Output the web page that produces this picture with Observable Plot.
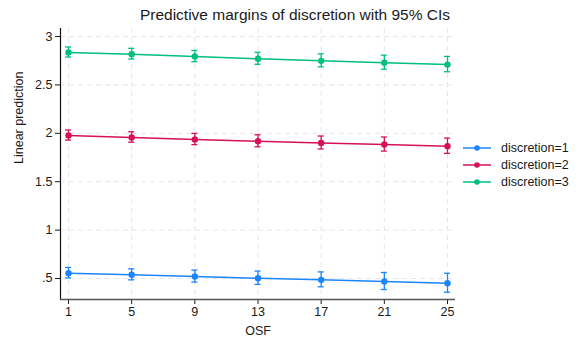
<!DOCTYPE html>
<html>
<head>
<meta charset="utf-8">
<script src="https://cdn.jsdelivr.net/npm/d3@7"></script>
<script src="https://cdn.jsdelivr.net/npm/@observablehq/plot@0.6"></script>
<style>
  body { margin: 0; background: #fff; font-family: "Liberation Sans", Arial, sans-serif; }
  #wrap { position: relative; width: 581px; height: 339px; }
  #title { position: absolute; top: 6px; left: 0; width: 590px; text-align: center; font-size: 15.5px; color: #1a1a1a; }
  #legend { position: absolute; left: 463px; top: 139px; font-size: 12.5px; color: #1a1a1a; }
  #legend .row { display: flex; align-items: center; height: 17px; }
  #legend svg { margin-right: 8px; }
</style>
</head>
<body>
<div id="wrap">
  <div id="chart"></div>
  <div id="title">Predictive margins of discretion with 95% CIs</div>
  <div id="legend"></div>
</div>
<script>
const osf = [1, 5, 9, 13, 17, 21, 25];
const seriesNames = ["discretion=1", "discretion=2", "discretion=3"];
const seriesColors = ["#1a85ff", "#d41159", "#00bf7f"];
const d1 = [0.555, 0.538, 0.520, 0.503, 0.486, 0.469, 0.451];
const d2 = [1.977, 1.957, 1.936, 1.918, 1.900, 1.884, 1.867];
const d3v = [2.835, 2.818, 2.793, 2.770, 2.749, 2.730, 2.710];
const hw1 = [0.054, 0.057, 0.062, 0.069, 0.077, 0.088, 0.098];
const hw2 = [0.052, 0.054, 0.058, 0.062, 0.067, 0.073, 0.079];
const hw3 = [0.052, 0.055, 0.058, 0.062, 0.067, 0.073, 0.079];
const yTicks = [0.5, 1, 1.5, 2, 2.5, 3];
const yTickLabels = [".5", "1", "1.5", "2", "2.5", "3"];

const values = [d1, d2, d3v];
const hws = [hw1, hw2, hw3];
const data = [];
seriesNames.forEach((s, i) => {
  osf.forEach((x, j) => {
    data.push({series: s, x, y: values[i][j], lo: values[i][j] - hws[i][j], hi: values[i][j] + hws[i][j]});
  });
});

const plot = Plot.plot({
  width: 581,
  height: 339,
  marginLeft: 60,
  marginRight: 126,
  marginTop: 28,
  marginBottom: 40,
  style: {fontFamily: '"Liberation Sans", Arial, sans-serif', fontSize: "12.5px", color: "#1a1a1a", background: "#fff"},
  x: {type: "linear", domain: [0.493, 25.507], label: null},
  y: {type: "linear", domain: [0.283, 3.083], label: null},
  color: {domain: seriesNames, range: seriesColors},
  marks: [
    Plot.gridX(osf, {stroke: "#e6e6e6", strokeOpacity: 1, strokeDasharray: "5,4"}),
    Plot.gridY(yTicks, {stroke: "#e6e6e6", strokeOpacity: 1, strokeDasharray: "5,4"}),
    Plot.line(data, {x: "x", y: "y", z: "series", stroke: "series", strokeWidth: 1.5}),
    Plot.ruleX(data, {x: "x", y1: "lo", y2: "hi", stroke: "series", strokeWidth: 1.3}),
    Plot.dot(data, {x: "x", y: "y", fill: "series", r: 3.2}),
    Plot.axisX(osf, {tickFormat: d => String(d), tickSize: 5, tickPadding: 3, fontSize: 12.5, label: null}),
    Plot.axisY(yTicks, {tickFormat: d => yTickLabels[yTicks.indexOf(d)], tickSize: 5, tickPadding: 3, fontSize: 12.5, label: null}),
    Plot.ruleX([0.493], {stroke: "#111", strokeWidth: 1.2}),
    Plot.ruleY([0.283], {stroke: "#555", strokeWidth: 1.5}),
    Plot.text(["OSF"], {frameAnchor: "bottom", dy: 35, fontSize: 12.5}),
    Plot.text(["Linear prediction"], {frameAnchor: "left", dx: -42, rotate: -90, fontSize: 12.5})
  ]
});
document.getElementById("chart").appendChild(plot);

// error bar caps drawn through the scales
const sx = plot.scale("x"), sy = plot.scale("y");
const svg = d3.select(plot);
const cg = svg.append("g");
data.forEach(d => {
  const col = seriesColors[seriesNames.indexOf(d.series)];
  [d.lo, d.hi].forEach(v => {
    cg.append("line")
      .attr("x1", sx.apply(d.x) - 3).attr("x2", sx.apply(d.x) + 3)
      .attr("y1", sy.apply(v)).attr("y2", sy.apply(v))
      .attr("stroke", col).attr("stroke-width", 1.3);
  });
});

// legend
const lg = document.getElementById("legend");
seriesNames.forEach((s, i) => {
  const row = document.createElement("div");
  row.className = "row";
  row.innerHTML = `<svg width="30" height="10"><line x1="0" y1="5" x2="28" y2="5" stroke="${seriesColors[i]}" stroke-width="1.5"/><circle cx="14" cy="5" r="2.8" fill="${seriesColors[i]}"/></svg><span>${s}</span>`;
  lg.appendChild(row);
});
</script>
</body>
</html>
